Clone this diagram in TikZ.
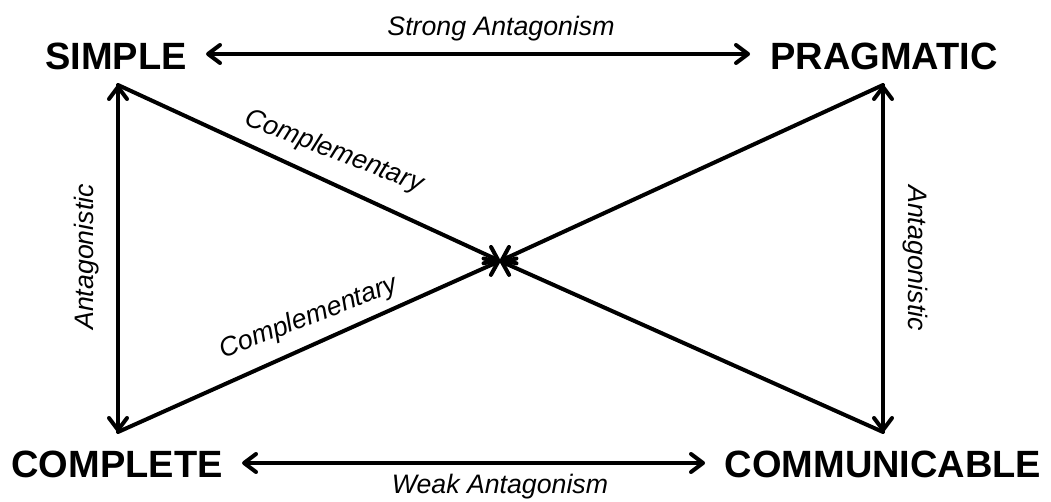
\documentclass[tikz,border=0pt]{standalone}
\usepackage{fontspec}
\setmainfont{Liberation Sans}
\usetikzlibrary{arrows.meta}
\begin{document}
\begin{tikzpicture}[x=1pt,y=-1pt,
  term/.style={font=\fontsize{38}{40}\selectfont\bfseries, anchor=base, inner sep=0pt},
  rel/.style={font=\fontsize{26.7}{28}\selectfont\itshape, inner sep=0pt},
  conn/.style={line width=4pt, line cap=round, line join=round,
    >={Straight Barb[length=12pt,width=18pt,round]}}
]
\useasboundingbox (0,0) rectangle (1051,502);
% terms
\node[term] (simple) at (116,70) {SIMPLE};
\node[term] (prag) at (884,70) {PRAGMATIC};
\node[term] (compl) at (117,477) {COMPLETE};
\node[term] (comm) at (883,477) {COMMUNICABLE};
% connector end points
\coordinate (tl) at (118,85);
\coordinate (bl) at (118,432);
\coordinate (tr) at (883,85);
\coordinate (br) at (883,432);
\coordinate (ctr) at (500,261);
\coordinate (topL) at (206,54);
\coordinate (topR) at (750,54);
\coordinate (botL) at (242,463);
\coordinate (botR) at (705,463);
% connectors
\draw[conn,<->] (topL) -- (topR);
\draw[conn,<->] (botL) -- (botR);
\draw[conn,<->] (tl) -- (bl);
\draw[conn,<->] (tr) -- (br);
\draw[conn,->] (tl) -- (ctr);
\draw[conn,->] (bl) -- (ctr);
\draw[conn,->] (tr) -- (ctr);
\draw[conn,->] (br) -- (ctr);
% labels
\node[rel, anchor=base] (strong) at (501,36) {Strong Antagonism};
\node[rel, anchor=base] (weak) at (500,493) {Weak Antagonism};
\node[rel, anchor=base, rotate=90] (antL) at (93,257) {Antagonistic};
\node[rel, anchor=base, rotate=-90] (antR) at (908,258) {Antagonistic};
\node[rel, rotate=-21] (compT) at (334,152) {Complementary};
\node[rel, rotate=21] (compB) at (309,318) {Complementary};
\end{tikzpicture}
\end{document}
